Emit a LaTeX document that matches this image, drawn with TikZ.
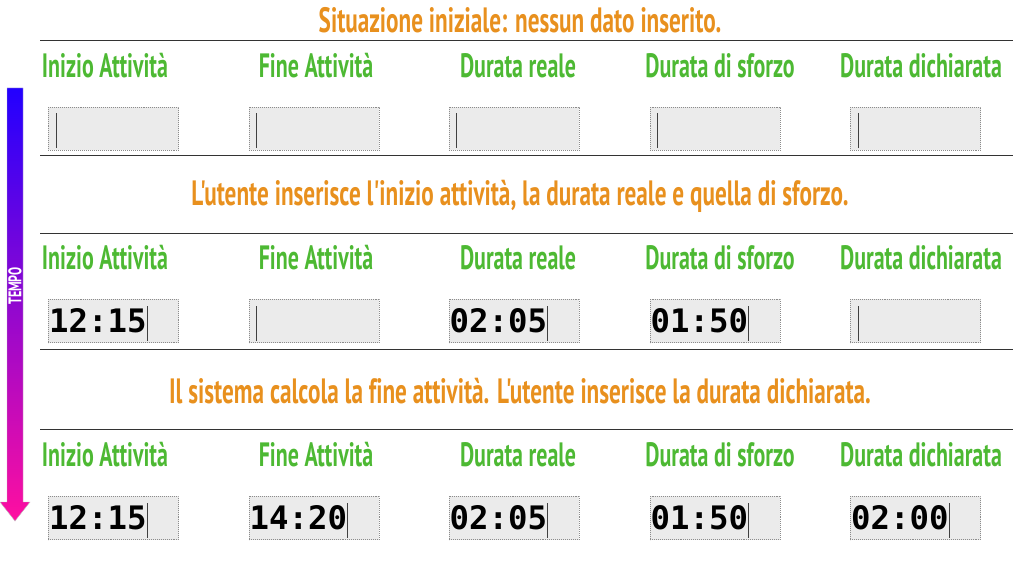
\documentclass[tikz,border=0pt]{standalone}
\usepackage{fontspec}
\setmainfont{PT Sans}
\newfontfamily\condfont[FakeStretch=0.66, Ligatures=NoCommon]{PT Sans Bold}
\newfontfamily\headfont[FakeStretch=0.65, Ligatures=NoCommon]{PT Sans Bold}
\newfontfamily\digitfont{DejaVu Sans Mono Bold}
\definecolor{titleorange}{HTML}{E8901E}
\definecolor{headgreen}{HTML}{4DB933}
\definecolor{boxgray}{HTML}{EBEBEB}
\definecolor{timetop}{HTML}{2200FF}
\definecolor{timebottom}{HTML}{FF0FA0}
\newcommand{\caret}{\textcolor{black!75}{\rule[-6pt]{1pt}{25pt}}}

\begin{document}
\begin{tikzpicture}[x=0.025cm,y=-0.025cm]
\tikzstyle{title}=[font=\condfont\fontsize{25}{28}\selectfont, text=titleorange, inner sep=0pt]
\tikzstyle{header}=[font=\headfont\fontsize{24}{28}\selectfont, text=headgreen, inner sep=0pt]
\tikzstyle{field}=[draw=black!45, densely dotted, fill=boxgray, minimum width=3.25cm, minimum height=1.08cm, inner sep=0pt]
\tikzstyle{value}=[font=\digitfont\fontsize{23}{26}\selectfont, anchor=west, inner sep=0pt, yshift=-1.5pt]
\tikzstyle{sep}=[black!80, line width=0.7pt]
\useasboundingbox (0,0) rectangle (1024,576);

% time arrow
\shadedraw [top color=timetop, bottom color=timebottom, draw=black!25, line width=0.3pt]
  (7,88) -- (23,88) -- (23,502) -- (30,502) -- (15,521) -- (0,502) -- (7,502) -- cycle;
\node (tempo) [rotate=90, text=white, font=\condfont\fontsize{13}{14}\selectfont, inner sep=0pt] at (15,286) {TEMPO};

% step 1
\node (t1) [title] at (520,20) {Situazione iniziale: nessun dato inserito.};
\coordinate (l1a) at (40,40);
\coordinate (l1b) at (1013,40);
\draw [sep] (l1a) -- (l1b);
\node (h11) [header] at (105,66) {Inizio Attività};
\node (h12) [header] at (316,66) {Fine Attività};
\node (h13) [header] at (518,66) {Durata reale};
\node (h14) [header] at (720,66) {Durata di sforzo};
\node (h15) [header] at (921,66) {Durata dichiarata};
\node (f11) [field] at (113.5,128.5) {};
\node (f12) [field] at (314,128.5) {};
\node (f13) [field] at (514,128.5) {};
\node (f14) [field] at (715,128.5) {};
\node (f15) [field] at (915.5,128.5) {};
\node [value, xshift=5pt] at (f11.west) {\caret};
\node [value, xshift=5pt] at (f12.west) {\caret};
\node [value, xshift=5pt] at (f13.west) {\caret};
\node [value, xshift=5pt] at (f14.west) {\caret};
\node [value, xshift=5pt] at (f15.west) {\caret};
\coordinate (l2a) at (40,155);
\coordinate (l2b) at (1013,155);
\draw [sep] (l2a) -- (l2b);

% step 2
\node (t2) [title] at (520,196) {L'utente inserisce l'inizio attività, la durata reale e quella di sforzo.};
\coordinate (l3a) at (40,233);
\coordinate (l3b) at (1013,233);
\draw [sep] (l3a) -- (l3b);
\node (h21) [header] at (105,258) {Inizio Attività};
\node (h22) [header] at (316,258) {Fine Attività};
\node (h23) [header] at (518,258) {Durata reale};
\node (h24) [header] at (720,258) {Durata di sforzo};
\node (h25) [header] at (921,258) {Durata dichiarata};
\node (f21) [field] at (113.5,321) {};
\node (f22) [field] at (314,321) {};
\node (f23) [field] at (514,321) {};
\node (f24) [field] at (715,321) {};
\node (f25) [field] at (915.5,321) {};
\node [value, xshift=0.5pt] at (f21.west) {12:15\caret};
\node [value, xshift=5pt] at (f22.west) {\caret};
\node [value, xshift=0.5pt] at (f23.west) {02:05\caret};
\node [value, xshift=0.5pt] at (f24.west) {01:50\caret};
\node [value, xshift=5pt] at (f25.west) {\caret};
\coordinate (l4a) at (40,349);
\coordinate (l4b) at (1013,349);
\draw [sep] (l4a) -- (l4b);

% step 3
\node (t3) [title] at (520,391) {Il sistema calcola la fine attività. L'utente inserisce la durata dichiarata.};
\coordinate (l5a) at (40,429);
\coordinate (l5b) at (1013,429);
\draw [sep] (l5a) -- (l5b);
\node (h31) [header] at (105,455) {Inizio Attività};
\node (h32) [header] at (316,455) {Fine Attività};
\node (h33) [header] at (518,455) {Durata reale};
\node (h34) [header] at (720,455) {Durata di sforzo};
\node (h35) [header] at (921,455) {Durata dichiarata};
\node (f31) [field] at (113.5,518) {};
\node (f32) [field] at (314,518) {};
\node (f33) [field] at (514,518) {};
\node (f34) [field] at (715,518) {};
\node (f35) [field] at (915.5,518) {};
\node [value, xshift=0.5pt] at (f31.west) {12:15\caret};
\node [value, xshift=0.5pt] at (f32.west) {14:20\caret};
\node [value, xshift=0.5pt] at (f33.west) {02:05\caret};
\node [value, xshift=0.5pt] at (f34.west) {01:50\caret};
\node [value, xshift=0.5pt] at (f35.west) {02:00\caret};
\end{tikzpicture}
\end{document}
